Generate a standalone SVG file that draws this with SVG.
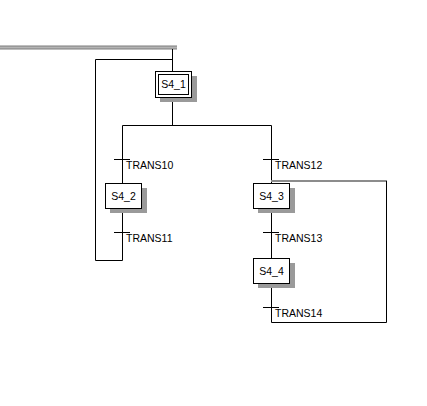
<svg xmlns="http://www.w3.org/2000/svg" width="427" height="406" viewBox="0 0 427 406">
  <style>
    .ln { fill: none; stroke: #000; stroke-width: 1; }
    .box { fill: #fff; stroke: #000; stroke-width: 1; }
    .shadow { fill: #9a9a9a; stroke: none; }
    .lbl { font-family: "Liberation Sans", Arial, sans-serif; font-size: 10.5px; fill: #000; }
  </style>
  <rect width="427" height="406" fill="#fff"/>

  <!-- connectors -->
  <g id="connectors">
    <!-- supply rail -->
    <rect x="0" y="46" width="177" height="3" fill="#b4b4b4"/>
    <line x1="0" y1="46" x2="177" y2="46" stroke="#7c7c7c" stroke-width="1"/>
    <line x1="0" y1="49" x2="177" y2="49" stroke="#7c7c7c" stroke-width="1"/>
    <line class="ln" x1="172.5" y1="49" x2="172.5" y2="71"/>
    <line class="ln" x1="172.5" y1="97" x2="172.5" y2="125.5"/>
    <!-- divergence -->
    <line class="ln" x1="122.5" y1="125.5" x2="271.5" y2="125.5"/>
    <!-- left branch -->
    <line class="ln" x1="122.5" y1="125.5" x2="122.5" y2="183"/>
    <line class="ln" x1="114" y1="159.5" x2="130" y2="159.5"/>
    <line class="ln" x1="122.5" y1="209" x2="122.5" y2="260.5"/>
    <line class="ln" x1="114" y1="232.5" x2="130" y2="232.5"/>
    <polyline class="ln" points="122.5,260.5 95.5,260.5 95.5,59.5 172.5,59.5"/>
    <!-- right branch -->
    <line class="ln" x1="271.5" y1="125.5" x2="271.5" y2="183"/>
    <line class="ln" x1="263" y1="159.5" x2="279" y2="159.5"/>
    <line x1="271" y1="181" x2="387" y2="181" stroke="#8c8c8c" stroke-width="2"/>
    <line class="ln" x1="271.5" y1="208" x2="271.5" y2="258"/>
    <line class="ln" x1="263" y1="232.5" x2="279" y2="232.5"/>
    <line class="ln" x1="271.5" y1="283" x2="271.5" y2="322.5"/>
    <line class="ln" x1="263" y1="307.5" x2="279" y2="307.5"/>
    <polyline class="ln" points="271.5,322.5 386.5,322.5 386.5,181"/>
  </g>

  <!-- initial step -->
  <g id="S4_1">
    <rect class="shadow" x="160" y="76" width="37" height="26"/>
    <rect class="box" x="155.5" y="71.5" width="36" height="26"/>
    <rect class="box" x="158.5" y="74.5" width="30" height="20"/>
    <text class="lbl" x="173.5" y="88" text-anchor="middle">S4_1</text>
  </g>

  <g id="S4_2">
    <rect class="shadow" x="110" y="188" width="37" height="25"/>
    <rect class="box" x="105.5" y="183.5" width="36" height="25"/>
    <text class="lbl" x="123.5" y="200" text-anchor="middle">S4_2</text>
  </g>

  <g id="S4_3">
    <rect class="shadow" x="258" y="188" width="37" height="25"/>
    <rect class="box" x="253.5" y="183.5" width="36" height="25"/>
    <text class="lbl" x="271.5" y="200" text-anchor="middle">S4_3</text>
  </g>

  <g id="S4_4">
    <rect class="shadow" x="258" y="263" width="37" height="25"/>
    <rect class="box" x="253.5" y="258.5" width="36" height="25"/>
    <text class="lbl" x="271.5" y="275" text-anchor="middle">S4_4</text>
  </g>

  <!-- transitions -->
  <g id="TRANS10"><text class="lbl" x="126" y="168.5">TRANS10</text></g>
  <g id="TRANS11"><text class="lbl" x="126" y="241.5">TRANS11</text></g>
  <g id="TRANS12"><text class="lbl" x="275" y="168.5">TRANS12</text></g>
  <g id="TRANS13"><text class="lbl" x="275" y="241.5">TRANS13</text></g>
  <g id="TRANS14"><text class="lbl" x="275" y="316.5">TRANS14</text></g>
</svg>
